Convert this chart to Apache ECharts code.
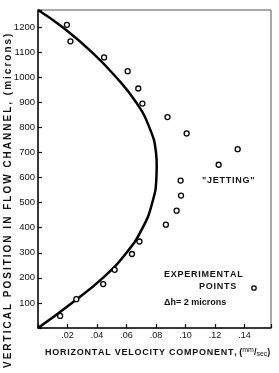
<!DOCTYPE html>
<html>
<head>
<meta charset="utf-8">
<script src="https://cdn.jsdelivr.net/npm/echarts@6/dist/echarts.min.js"></script>
<style>
html, body { margin: 0; padding: 0; background: #fff; }
#chart { width: 279px; height: 373px; }
</style>
</head>
<body>
<div id="chart"></div>
<script>
// theoretical velocity profile (x in mm/sec, y in microns)
var curveX = [0, 0.023, 0.044, 0.060, 0.071, 0.0775, 0.0803, 0.0805, 0.080, 0.0755, 0.0665, 0.053, 0.0365, 0.0165, 0];
var curveY = [0, 100, 200, 300, 400, 500, 600, 650, 700, 800, 900, 1000, 1100, 1200, 1268];

// experimental points
var pointX = [0.015, 0.026, 0.0442, 0.052, 0.0637, 0.0688, 0.0867, 0.094, 0.097, 0.0967, 0.1225, 0.1354, 0.1008, 0.0878, 0.0708, 0.068, 0.0608, 0.0448, 0.022, 0.0196];
var pointY = [48, 115, 175, 232, 295, 345, 412, 468, 528, 588, 651, 713, 776, 841, 895, 955, 1024, 1079, 1143, 1209];

var xTicks = [0.02, 0.04, 0.06, 0.08, 0.10, 0.12, 0.14];
var yTicks = [100, 200, 300, 400, 500, 600, 700, 800, 900, 1000, 1100, 1200];

function pairs(xs, ys) {
	var out = [];
	for (var i = 0; i < xs.length; i++) {
		out.push([xs[i], ys[i]]);
	}
	return out;
}

function isTick(list, v) {
	for (var i = 0; i < list.length; i++) {
		if (Math.abs(list[i] - v) < 1e-6) return true;
	}
	return false;
}

// fake letter spacing, the old typewriter lettering is wide
function spaced(str, sep) {
	return str.split('').join(sep);
}

var font = 'Liberation Sans';
var chart = echarts.init(document.getElementById('chart'));

chart.setOption({
	animation: false,
	backgroundColor: '#fff',
	grid: {
		left: 38, top: 10, right: 8, bottom: 45,
		show: true, borderColor: '#555', borderWidth: 1
	},
	xAxis: {
		type: 'value', min: 0, max: 0.158, interval: 0.02,
		axisLine: { lineStyle: { color: '#111', width: 1.5 } },
		axisTick: { inside: true, length: 4, lineStyle: { color: '#111', width: 1.2 } },
		splitLine: { show: false },
		axisLabel: {
			color: '#111', fontFamily: font, fontSize: 9, margin: 3,
			formatter: function(v) {
				if (!isTick(xTicks, v)) return '';
				return '.' + Math.round(v * 100).toString().padStart(2, '0');
			}
		}
	},
	yAxis: {
		type: 'value', min: 0, max: 1268, interval: 100,
		axisLine: { lineStyle: { color: '#111', width: 1.5 } },
		axisTick: { inside: true, length: 4, lineStyle: { color: '#111', width: 1.2 } },
		splitLine: { show: false },
		axisLabel: {
			color: '#111', fontFamily: font, fontSize: 9.5, margin: 3,
			formatter: function(v) {
				return isTick(yTicks, v) ? String(v) : '';
			}
		}
	},
	series: [{
		type: 'line',
		data: pairs(curveX, curveY),
		smooth: 0.5,
		showSymbol: false,
		lineStyle: { color: '#000', width: 2.5 }
	}, {
		type: 'scatter',
		data: pairs(pointX, pointY),
		symbol: 'circle',
		symbolSize: 5,
		itemStyle: { color: '#fff', borderColor: '#000', borderWidth: 1.3, opacity: 1 },
		z: 5
	}],
	graphic: [{
		type: 'text', x: 3, y: 368, rotation: Math.PI / 2,
		style: {
			text: spaced('VERTICAL POSITION IN FLOW CHANNEL, (microns)', '\u2009'),
			font: 'bold 10px ' + font, fill: '#111',
			align: 'left', verticalAlign: 'top'
		}
	}, {
		type: 'text', x: 45, y: 347,
		style: {
			text: spaced('HORIZONTAL VELOCITY COMPONENT,', '\u200A') + ' ({sup|mm}/{sub|sec})',
			font: 'bold 9px ' + font, fill: '#111',
			rich: {
				sup: { fontSize: 7, fontFamily: font, verticalAlign: 'top', padding: [0, 0, 4, 0] },
				sub: { fontSize: 7, fontFamily: font, padding: [4, 0, 0, 0] }
			}
		}
	}, {
		type: 'text', x: 202, y: 176,
		style: { text: spaced('"JETTING"', '\u200A'), font: 'bold 9px ' + font, fill: '#111' }
	}, {
		type: 'text', x: 164, y: 270,
		style: { text: spaced('EXPERIMENTAL', '\u200A'), font: 'bold 9px ' + font, fill: '#111' }
	}, {
		type: 'text', x: 199, y: 282,
		style: { text: spaced('POINTS', '\u200A'), font: 'bold 9px ' + font, fill: '#111' }
	}, {
		type: 'circle', shape: { cx: 254, cy: 288, r: 2.2 },
		style: { fill: '#fff', stroke: '#000', lineWidth: 1.3 }
	}, {
		type: 'text', x: 164, y: 298,
		style: { text: '\u0394h= 2 microns', font: 'bold 9px ' + font, fill: '#111' }
	}]
});
</script>
</body>
</html>
